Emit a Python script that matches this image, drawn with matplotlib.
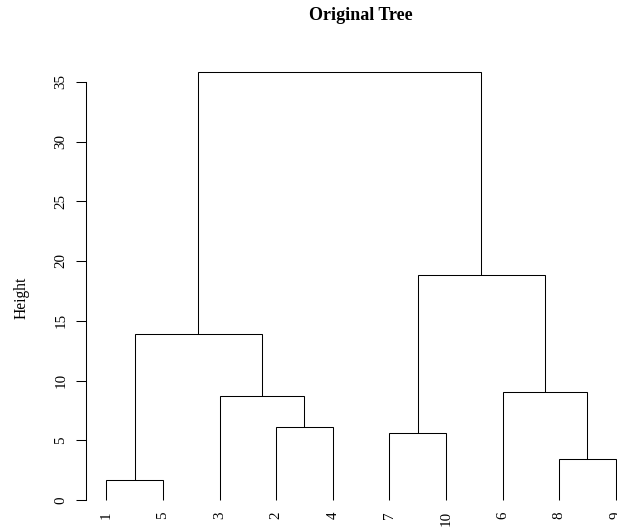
import matplotlib.pyplot as plt

# hclust-style data: leaf order, merge table (negative = observation, positive = earlier merge), heights
order = [1, 5, 3, 2, 4, 7, 10, 6, 8, 9]
merge_a = [-1, -8, -7, -2, -3, -6, 1, 3, 7]
merge_b = [-5, -9, -10, -4, 4, 2, 5, 6, 8]
heights = [1.7, 3.4, 5.6, 6.1, 8.7, 9.0, 13.9, 18.8, 35.8]
yticks = [0, 5, 10, 15, 20, 25, 30, 35]

plt.rcParams['font.family'] = ['Liberation Serif', 'DejaVu Serif']

W, H = 617, 528
fig = plt.figure(figsize=(W / 100, H / 100), dpi=100)

x0, x1 = 0.64, 10.36
y0, y1 = -0.04 * max(heights), 1.04 * max(heights)
px_x = 56.6
px_y = 11.95
left = 86 / W
width = (x1 - x0) * px_x / W
top_px = 500 - y1 * px_y
bottom_px = 500 - y0 * px_y
ax = fig.add_axes([left, (H - bottom_px) / H, width, (bottom_px - top_px) / H])

leaf_x = {obs: i + 1 for i, obs in enumerate(order)}
node_x = []
node_y = []


def pos(ref):
    if ref < 0:
        return leaf_x[-ref], 0.0
    return node_x[ref - 1], node_y[ref - 1]


for a, b, h in zip(merge_a, merge_b, heights):
    xa, ya = pos(a)
    xb, yb = pos(b)
    ax.plot([xa, xa, xb, xb], [ya, h, h, yb], color='black', lw=0.75,
            solid_capstyle='butt', solid_joinstyle='miter')
    node_x.append((xa + xb) / 2)
    node_y.append(h)

fs = 10.8
for obs in order:
    ax.text(leaf_x[obs], -0.95, str(obs), rotation=90, ha='center', va='top',
            fontsize=fs)

ax.set_xlim(x0, x1)
ax.set_ylim(y0, y1)
ax.set_xticks([])
ax.set_yticks(yticks)
ax.tick_params(axis='y', length=7, width=0.75, pad=6.5, labelsize=fs,
               labelrotation=90)
for t in ax.get_yticklabels():
    t.set_va('center')
for s in ['top', 'right', 'bottom']:
    ax.spines[s].set_visible(False)
ax.spines['left'].set_bounds(0, 35)
ax.spines['left'].set_linewidth(0.75)

fig.text(22 / W, (H - 298) / H, 'Height', rotation=90,
         ha='center', va='center', fontsize=11.2)
fig.text(361 / W, (H - 15) / H, 'Original Tree', ha='center', va='center',
         fontsize=13, fontweight='bold')

fig.savefig('out.png', dpi=100)
